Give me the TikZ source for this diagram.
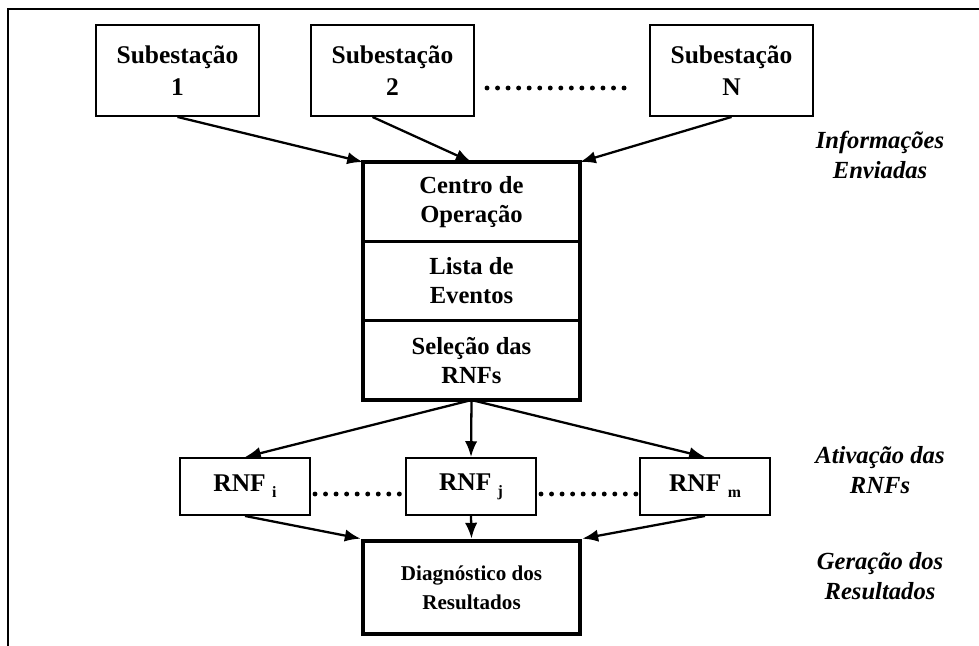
\documentclass[tikz,border=0pt]{standalone}
\usepackage{fontspec}
\setmainfont{Liberation Serif}
\usepackage{tikz}
\usetikzlibrary{arrows.meta}
\usetikzlibrary{positioning}
\tikzstyle{caixa} = [rectangle, draw=black, line width=1.1pt, align=center, text centered, font=\bfseries\fontsize{14.5}{18}\selectfont]
\tikzstyle{parte} = [caixa, line width=1.4pt, outer sep=0pt, minimum width=4.34cm, minimum height=1.587cm, font=\bfseries\fontsize{14}{16.5}\selectfont]
\tikzstyle{rotulo} = [align=center, font=\bfseries\itshape\fontsize{14}{17.5}\selectfont]
\tikzstyle{seta} = [->, line width=1.3pt]
\tikzstyle{pontos} = [line width=2.8pt, line cap=round, dash pattern=on 0pt off 6pt]

\begin{document}
\begin{tikzpicture}[x=0.02cm, y=-0.02cm, >={Latex[length=9pt,width=7pt]}]

  \useasboundingbox (0,0) rectangle (979,645);

  % moldura
  \draw[line width=1.7pt] (8,650) -- (8,9) -- (985,9);

  % Subestacoes
  \node[caixa, minimum width=3.26cm, minimum height=1.82cm] (sub1) at (177.5,70.5) {Subestação\\1};
  \node[caixa, minimum width=3.26cm, minimum height=1.82cm] (sub2) at (392.5,70.5) {Subestação\\2};
  \node[caixa, minimum width=3.26cm, minimum height=1.82cm] (subn) at (731.5,70.5) {Subestação\\N};
  \draw[pontos] (487,88) -- (634,88);

  % Centro de operacao
  \node[parte] (cop) at (471.5,201.7) {Centro de\\Operação};
  \node[parte, below=0pt of cop] (lista) {Lista de\\Eventos};
  \node[parte, below=0pt of lista] (sel) {Seleção das\\RNFs};
  \draw[line width=2.7pt] (cop.north west) rectangle (sel.south east);

  \draw[seta] (sub1.south) -- (cop.north west);
  \draw[seta] ([xshift=-0.4cm]sub2.south) -- (cop.north);
  \draw[seta] (subn.south) -- (cop.north east);

  % RNFs
  \node[caixa, minimum width=2.6cm, minimum height=1.14cm] (rnfi) at (245,486.5) {RNF \raisebox{-0.5ex}{\fontsize{9}{9}\selectfont i}};
  \node[caixa, minimum width=2.6cm, minimum height=1.14cm] (rnfj) at (471,486.5) {RNF \raisebox{-0.5ex}{\fontsize{9}{9}\selectfont j}};
  \node[caixa, minimum width=2.6cm, minimum height=1.14cm] (rnfm) at (705,486.5) {RNF \raisebox{-0.5ex}{\fontsize{9}{9}\selectfont m}};
  \draw[pontos] (315,494) -- (405,494);
  \draw[pontos] (541,494) -- (639,494);

  \draw[seta] (sel.south) -- (rnfi.north);
  \draw[seta] (sel.south) -- (rnfj.north);
  \draw[seta] (sel.south) -- (rnfm.north);

  % Diagnostico
  \node[caixa, line width=2.7pt, minimum width=4.34cm, minimum height=1.86cm, font=\bfseries\fontsize{12}{16.5}\selectfont] (diag) at (471.5,587.5) {Diagnóstico dos\\Resultados};

  \draw[seta] (rnfi.south) -- (diag.north west);
  \draw[seta] (rnfj.south) -- (diag.north);
  \draw[seta] (rnfm.south) -- (diag.north east);

  % rotulos
  \node[rotulo] (info) at (880,155) {Informações\\Enviadas};
  \node[rotulo] (ativ) at (880,470) {Ativação das\\RNFs};
  \node[rotulo] (ger) at (880,576) {Geração dos\\Resultados};

\end{tikzpicture}
\end{document}
